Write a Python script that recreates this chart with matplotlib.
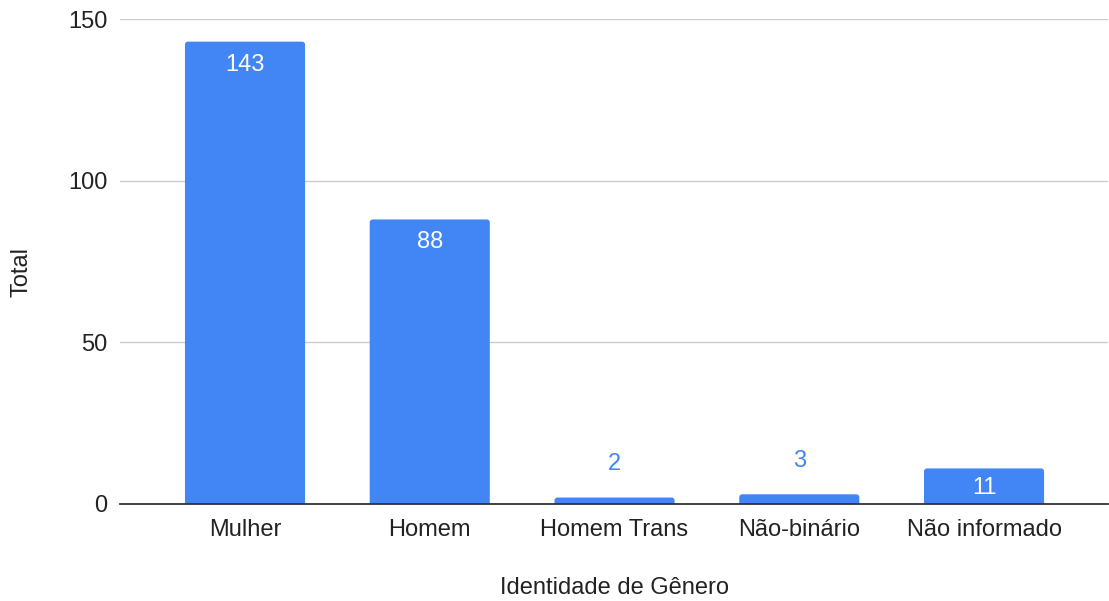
import matplotlib
matplotlib.use("Agg")
import matplotlib.pyplot as plt
from matplotlib.patches import FancyBboxPatch

categories = ["Mulher", "Homem", "Homem Trans", "Não-binário", "Não informado"]
values = [143, 88, 2, 3, 11]
yticks = [0, 50, 100, 150]

BLUE = "#4285F4"
plt.rcParams['font.family'] = ['Liberation Sans', 'DejaVu Sans']
FS = 17

fig = plt.figure(figsize=(11.09, 6.01), dpi=100)
ax = fig.add_axes([120/1109, 1 - 504/601, (1108-120)/1109, (504-19)/601])

x = list(range(len(categories)))
bars = ax.bar(x, values, width=0.65, color=BLUE, zorder=3)
ax.set_xlim(-0.6766, 4.671)
ax.set_ylim(0, 150)

# rounded tops: replace each bar by a rounded box whose bottom is clipped below 0
px_x = 1 / 184.75
px_y = 150 / 485
r_px = 3
for b in bars:
    bx, by, bw, bh = b.get_x(), b.get_y(), b.get_width(), b.get_height()
    rs = r_px * px_x
    ext = 2 * r_px * px_y
    p = FancyBboxPatch((bx, by - ext), bw, bh + ext,
                       boxstyle=f"round,pad=0,rounding_size={rs}",
                       mutation_aspect=px_y / px_x,
                       facecolor=BLUE, edgecolor="none", zorder=3)
    ax.add_patch(p)
    b.set_visible(False)

ax.set_yticks(yticks)
ax.set_xticks(x)
ax.set_xticklabels(categories)

for s in ["top", "right", "left"]:
    ax.spines[s].set_visible(False)
ax.spines["bottom"].set_color("#333333")
ax.spines["bottom"].set_linewidth(1.3)
ax.spines["bottom"].set_zorder(4)
ax.grid(axis="y", color="#cccccc", linewidth=1, zorder=0)
ax.tick_params(axis="both", length=0, labelsize=FS, colors="#222222")
ax.tick_params(axis="y", pad=9)
ax.tick_params(axis="x", pad=11)

for xi, v in zip(x, values):
    h_px = v / px_y
    if v >= 10:
        off_px = min(21, h_px / 2) + 2
        ax.annotate(str(v), (xi, v), xytext=(0, -off_px * 0.72), textcoords="offset points",
                    ha="center", va="center", color="white", fontsize=FS, zorder=5)
    else:
        ax.annotate(str(v), (xi, v), xytext=(0, 24.3), textcoords="offset points",
                    ha="center", va="center", color=BLUE, fontsize=FS, zorder=5)

fig.text(21/1109, 1 - 272/601, "Total", rotation=90, ha="center", va="center",
         fontsize=FS, color="#222222")
fig.text(614/1109, 1 - 588/601, "Identidade de Gênero", ha="center", va="center",
         fontsize=FS, color="#222222")

fig.savefig("out.png", dpi=100)
